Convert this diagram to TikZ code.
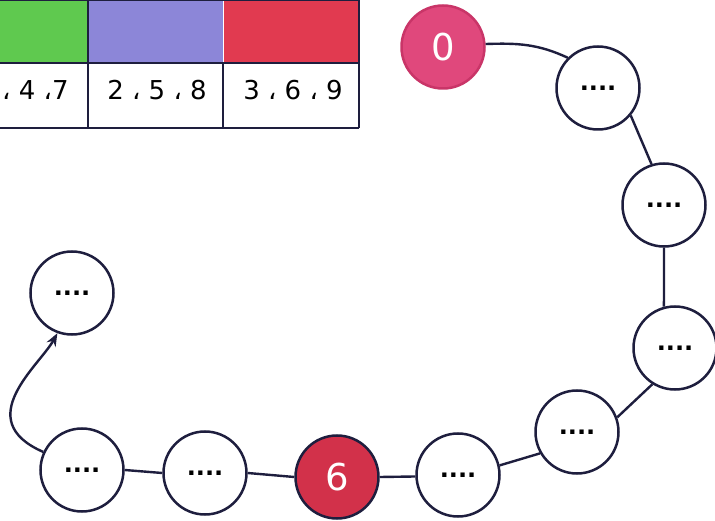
\documentclass[tikz,border=0pt]{standalone}
\usepackage{fontspec}
\setmainfont{DejaVu Sans}
\usetikzlibrary{arrows.meta}
\definecolor{ink}{HTML}{1E1E3E}
\definecolor{cgreen}{HTML}{5FC94F}
\definecolor{cpurple}{HTML}{8C86D8}
\definecolor{cred}{HTML}{E13A50}
\definecolor{pinkfill}{HTML}{E0487C}
\definecolor{pinkedge}{HTML}{C93568}
\definecolor{redsix}{HTML}{D2314A}
\begin{document}
\begin{tikzpicture}[x=1pt,y=1pt,
  dotnode/.style={circle,draw=ink,line width=2.5pt,fill=white,minimum size=83pt,inner sep=0pt,
    font=\fontsize{24}{24}\selectfont\bfseries},
  numnode/.style={circle,line width=2.5pt,minimum size=83pt,inner sep=0pt,text=white,
    font=\fontsize{37}{37}\selectfont},
  link/.style={draw=ink,line width=2.4pt},
  cellline/.style={draw=ink,line width=2.2pt},
  celltext/.style={anchor=base,inner sep=0pt,font=\fontsize{26}{26}\selectfont}]
\useasboundingbox (0,0) rectangle (715,520);
\clip (0,0) rectangle (715,520);
\fill[white] (0,0) rectangle (715,520);
% table
\fill[cgreen] (-47,457) rectangle (88,522);
\fill[cpurple] (88,457) rectangle (223,522);
\fill[cred] (223,457) rectangle (359,522);
\draw[cellline] (-47,520) -- (359,520);
\draw[cellline] (-47,457) -- (359,457);
\draw[cellline] (-47,392) -- (359,392);
\draw[cellline] (88,392) -- (88,522);
\draw[cellline] (223,392) -- (223,457);
\draw[white,line width=1pt] (223,458) -- (223,519);
\draw[cellline] (359,392) -- (359,522);
\node[celltext,anchor=base west] (t1) at (2,420) {، 4 ،7};
\node[celltext] (t2) at (157,420) {2 ، 5 ، 8};
\node[celltext] (t3) at (293,420) {3 ، 6 ، 9};
% nodes
\node[numnode,draw=pinkedge,fill=pinkfill] (n0) at (443,473) {0};
\node[dotnode] (nA) at (598,432) {....};
\node[dotnode] (nB) at (664,315) {....};
\node[dotnode] (nC) at (675,172) {....};
\node[dotnode] (nD) at (577,88) {....};
\node[dotnode] (nE) at (458,45) {....};
\node[numnode,draw=ink,fill=redsix] (n6) at (337,43) {6};
\node[dotnode] (nF) at (205,47) {....};
\node[dotnode] (nG) at (82,50) {....};
\node[dotnode] (nH) at (72,227) {....};
% connectors
\draw[link] (n0.4) to[out=2,in=155] (nA.135);
\draw[link] (nA.-40) -- (nB.107);
\draw[link] (nB.-90) -- (nC.105);
\draw[link] (nC.238) -- (nD.20);
\draw[link] (nD.210) -- (nE.13);
\draw[link] (n6.0) -- (nE.182);
\draw[link] (nF.0) -- (n6.180);
\draw[link] (nG.0) -- (nF.180);
\draw[link,-{Stealth[length=13pt,width=10pt]}] (nG.155) .. controls (-30,100) and (40,155) .. (nH.250);
\end{tikzpicture}
\end{document}
